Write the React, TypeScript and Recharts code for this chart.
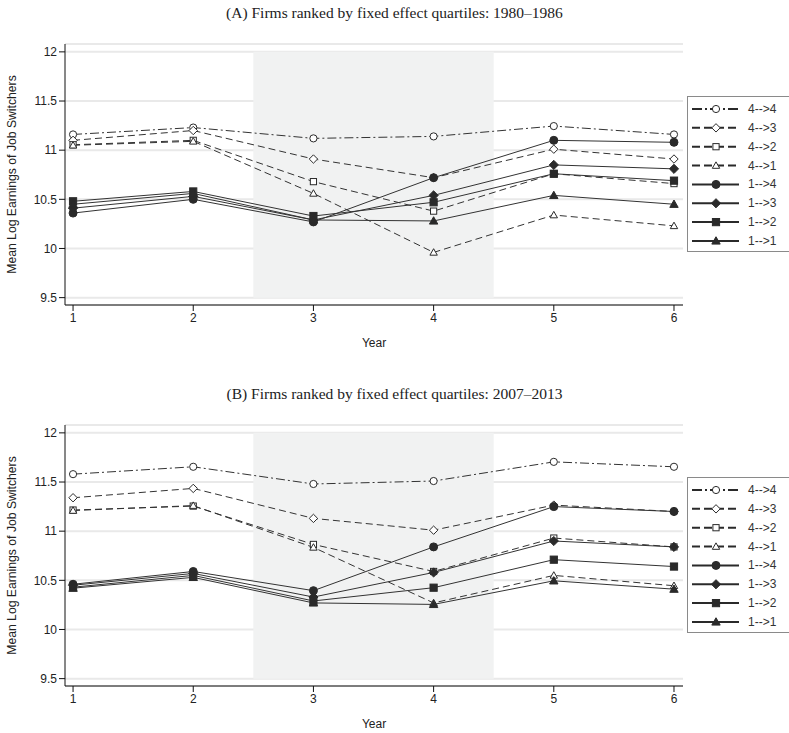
import React from 'react';
import {CartesianGrid, Line, LineChart, ReferenceArea, XAxis, YAxis} from 'recharts';

const years = [1, 2, 3, 4, 5, 6];
const yTicks = [9.5, 10, 10.5, 11, 11.5, 12];
const seriesNames = ['4-->4', '4-->3', '4-->2', '4-->1', '1-->4', '1-->3', '1-->2', '1-->1'];

// panel A, 1980–1986
const a44 = [11.16, 11.23, 11.12, 11.14, 11.245, 11.16];
const a43 = [11.1, 11.2, 10.91, 10.72, 11.01, 10.91];
const a42 = [11.055, 11.1, 10.68, 10.38, 10.76, 10.66];
const a41 = [11.05, 11.09, 10.56, 9.96, 10.34, 10.23];
const a14 = [10.36, 10.5, 10.27, 10.72, 11.1, 11.08];
const a13 = [10.41, 10.53, 10.29, 10.54, 10.85, 10.81];
const a12 = [10.48, 10.58, 10.33, 10.47, 10.76, 10.69];
const a11 = [10.45, 10.56, 10.29, 10.28, 10.54, 10.45];

// panel B, 2007–2013
const b44 = [11.58, 11.655, 11.48, 11.51, 11.705, 11.655];
const b43 = [11.34, 11.435, 11.13, 11.01, 11.265, 11.2];
const b42 = [11.215, 11.255, 10.865, 10.59, 10.93, 10.84];
const b41 = [11.21, 11.26, 10.835, 10.27, 10.55, 10.445];
const b14 = [10.46, 10.59, 10.395, 10.84, 11.25, 11.2];
const b13 = [10.45, 10.57, 10.33, 10.58, 10.9, 10.84];
const b12 = [10.43, 10.55, 10.29, 10.425, 10.71, 10.64];
const b11 = [10.42, 10.53, 10.27, 10.255, 10.495, 10.41];

const keys = ['s44', 's43', 's42', 's41', 's14', 's13', 's12', 's11'];

type Shape = 'circle' | 'diamond' | 'square' | 'triangle';
const looks: {dash?: string; legendDash?: string; shape: Shape; filled: boolean}[] = [
  {dash: '9 3 2 3', legendDash: '10 3 2 3', shape: 'circle', filled: false},
  {dash: '7 4', legendDash: '8 4', shape: 'diamond', filled: false},
  {dash: '7 4', legendDash: '8 4', shape: 'square', filled: false},
  {dash: '7 4', legendDash: '8 4', shape: 'triangle', filled: false},
  {shape: 'circle', filled: true},
  {shape: 'diamond', filled: true},
  {shape: 'square', filled: true},
  {shape: 'triangle', filled: true},
];

const buildRows = (cols: number[][]) =>
  years.map((year, i) => {
    const row: Record<string, number> = {year};
    keys.forEach((k, j) => (row[k] = cols[j][i]));
    return row;
  });

const dataA = buildRows([a44, a43, a42, a41, a14, a13, a12, a11]);
const dataB = buildRows([b44, b43, b42, b41, b14, b13, b12, b11]);

const INK = '#2a2a2a';
const SANS = '"Liberation Sans", Arial, sans-serif';

function Marker({cx, cy, shape, filled}: {cx: number; cy: number; shape: Shape; filled: boolean}) {
  const fill = filled ? INK : '#fff';
  const common = {fill, stroke: INK, strokeWidth: 1};
  if (shape === 'circle') return <circle cx={cx} cy={cy} r={filled ? 4 : 3.6} {...common} />;
  if (shape === 'diamond') {
    const h = filled ? 4.6 : 4.2;
    return <polygon points={`${cx},${cy - h} ${cx + h},${cy} ${cx},${cy + h} ${cx - h},${cy}`} {...common} />;
  }
  if (shape === 'square') {
    const s = filled ? 3.6 : 3.1;
    return <rect x={cx - s} y={cy - s} width={s * 2} height={s * 2} {...common} />;
  }
  const t = filled ? 4.2 : 3.7;
  return <polygon points={`${cx},${cy - t} ${cx + t},${cy + t * 0.75} ${cx - t},${cy + t * 0.75}`} {...common} />;
}

function ChartLegend({top}: {top: number}) {
  return (
    <div style={{position: 'absolute', left: 687, top, width: 110, height: 156, border: '1px solid #8a8a8a', boxSizing: 'border-box', background: '#fff'}}>
      <svg width={110} height={156} style={{position: 'absolute', left: -1, top: -1}}>
        {seriesNames.map((name, i) => {
          const y = 13 + i * 18.85;
          const lk = looks[i];
          return (
            <g key={name}>
              <line x1={5} x2={52} y1={y} y2={y} stroke={INK} strokeWidth={2} strokeDasharray={lk.legendDash} />
              <Marker cx={29} cy={y} shape={lk.shape} filled={lk.filled} />
              <text x={61} y={y} dominantBaseline="central" fontSize={12} fontFamily={SANS} fill="#333">
                {name}
              </text>
            </g>
          );
        })}
      </svg>
    </div>
  );
}

function Panel({title, data, top}: {title: string; data: Record<string, number>[]; top: number}) {
  return (
    <div style={{position: 'absolute', left: 0, top, width: 789, height: 360}}>
      <div style={{position: 'absolute', left: 0, top: 3, width: 789, textAlign: 'center', fontFamily: '"Liberation Serif", "Times New Roman", serif', fontSize: 15.5, color: '#222', lineHeight: '20px'}}>
        {title}
      </div>
      <LineChart width={789} height={360} data={data} margin={{top: 44, right: 106, bottom: 5, left: 0}}>
        <CartesianGrid vertical={false} stroke="#e9e9e9" strokeWidth={2} />
        <ReferenceArea x1={2.5} x2={4.5} y1={9.5} y2={12} fill="#f1f2f2" fillOpacity={1} stroke="none" />
        <XAxis
          dataKey="year"
          type="number"
          domain={[0.933, 6.075]}
          ticks={years}
          allowDataOverflow
          stroke="#111"
          tickSize={6}
          height={50}
          tick={{fill: '#222', fontSize: 12, fontFamily: SANS}}
          label={{value: 'Year', position: 'insideBottom', offset: 8, fill: '#222', fontSize: 12, fontFamily: SANS}}
        />
        <YAxis
          type="number"
          domain={[9.425, 12.08]}
          ticks={yTicks}
          allowDataOverflow
          width={65}
          stroke="#111"
          tickSize={6}
          tick={{fill: '#222', fontSize: 12, fontFamily: SANS}}
          label={{value: 'Mean Log Earnings of Job Switchers', angle: -90, position: 'insideLeft', offset: 12, fill: '#222', fontSize: 12.2, fontFamily: SANS, style: {textAnchor: 'middle'}}}
        />
        {keys.map((k, i) => {
          const lk = looks[i];
          return (
            <Line
              key={k}
              dataKey={k}
              name={seriesNames[i]}
              type="linear"
              stroke="#333"
              strokeWidth={1}
              strokeDasharray={lk.dash}
              isAnimationActive={false}
              dot={(p: any) => <Marker key={`${k}-${p.index}`} cx={p.cx} cy={p.cy} shape={lk.shape} filled={lk.filled} />}
              activeDot={false}
            />
          );
        })}
      </LineChart>
      <ChartLegend top={96} />
    </div>
  );
}

export default function App() {
  return (
    <div style={{position: 'absolute', left: 0, top: 0, width: 789, height: 733, overflow: 'hidden', background: '#fff'}}>
      <Panel title="(A) Firms ranked by fixed effect quartiles: 1980–1986" data={dataA} top={0} />
      <Panel title="(B) Firms ranked by fixed effect quartiles: 2007–2013" data={dataB} top={381} />
    </div>
  );
}
